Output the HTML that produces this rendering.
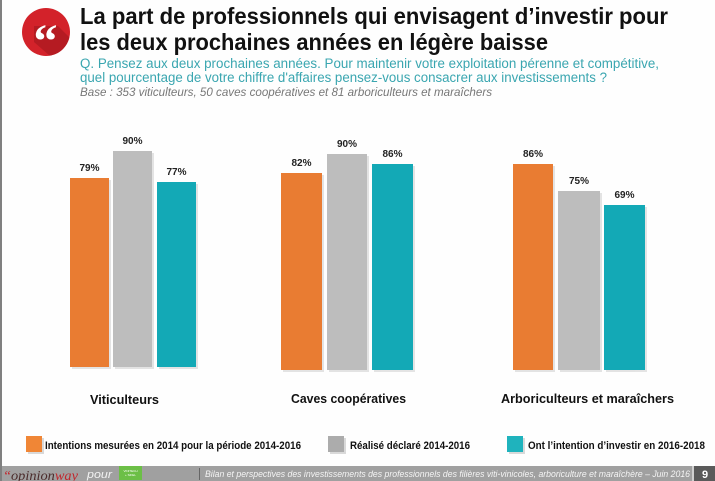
<!DOCTYPE html>
<html><head><meta charset="utf-8"><style>
html,body{margin:0;padding:0;background:#fff;}
svg{display:block;}
text{font-family:"Liberation Sans",sans-serif;}
</style></head><body>
<svg width="715" height="481" viewBox="0 0 715 481" xmlns="http://www.w3.org/2000/svg">
<defs>
<clipPath id="cc"><circle cx="46" cy="32" r="24"/></clipPath>
</defs>
<rect x="0" y="0" width="715" height="481" fill="#fefefe"/>
<rect x="0" y="0" width="2" height="481" fill="#808080"/>

<!-- quote icon -->
<circle cx="46" cy="32" r="24" fill="#d3222a"/>
<polygon points="34,26 58,26 90,58 66,70 34,42" fill="#b51b22" clip-path="url(#cc)"/>
<text x="45.5" y="57" font-family="Liberation Serif,serif" font-weight="bold" font-size="48" fill="#fff" text-anchor="middle" style="font-family:'Liberation Serif',serif">“</text>

<!-- title -->
<text x="80" y="24" font-size="23" font-weight="bold" fill="#111" textLength="588" lengthAdjust="spacingAndGlyphs">La part de professionnels qui envisagent d’investir pour</text>
<text x="80" y="50" font-size="23" font-weight="bold" fill="#111" textLength="468" lengthAdjust="spacingAndGlyphs">les deux prochaines années en légère baisse</text>
<text x="80" y="68" font-size="13.5" fill="#3aa6b0" textLength="579" lengthAdjust="spacingAndGlyphs">Q. Pensez aux deux prochaines années. Pour maintenir votre exploitation pérenne et compétitive,</text>
<text x="80" y="82" font-size="13.5" fill="#3aa6b0" textLength="527" lengthAdjust="spacingAndGlyphs">quel pourcentage de votre chiffre d'affaires pensez-vous consacrer aux investissements ?</text>
<text x="80" y="96" font-size="11.5" font-style="italic" fill="#777" textLength="412" lengthAdjust="spacingAndGlyphs">Base : 353 viticulteurs, 50 caves coopératives et 81 arboriculteurs et maraîchers</text>

<!-- bars: shadows -->
<g fill="#d9d9d9" opacity="0.7">
<rect x="72" y="180" width="39" height="189"/>
<rect x="115" y="153" width="39" height="216"/>
<rect x="159" y="184" width="39" height="185"/>
<rect x="283" y="175" width="41" height="197"/>
<rect x="329" y="156" width="40" height="216"/>
<rect x="374" y="166" width="41" height="206"/>
<rect x="515" y="166" width="40" height="206"/>
<rect x="560" y="193" width="42" height="179"/>
<rect x="606" y="207" width="41" height="165"/>
</g>
<!-- bars -->
<rect x="70" y="178" width="39" height="189" fill="#e97c32"/>
<rect x="113" y="151" width="39" height="216" fill="#bdbdbd"/>
<rect x="157" y="182" width="39" height="185" fill="#13a9b6"/>
<rect x="281" y="173" width="41" height="197" fill="#e97c32"/>
<rect x="327" y="154" width="40" height="216" fill="#bdbdbd"/>
<rect x="372" y="164" width="41" height="206" fill="#13a9b6"/>
<rect x="513" y="164" width="40" height="206" fill="#e97c32"/>
<rect x="558" y="191" width="42" height="179" fill="#bdbdbd"/>
<rect x="604" y="205" width="41" height="165" fill="#13a9b6"/>

<!-- value labels -->
<g font-size="10" font-weight="bold" fill="#222" text-anchor="middle">
<text x="89.5" y="171">79%</text>
<text x="132.5" y="144">90%</text>
<text x="176.5" y="175">77%</text>
<text x="301.5" y="166">82%</text>
<text x="347" y="147">90%</text>
<text x="392.5" y="157">86%</text>
<text x="533" y="157">86%</text>
<text x="579" y="184">75%</text>
<text x="624.5" y="198">69%</text>
</g>

<!-- category labels -->
<g font-size="13" font-weight="bold" fill="#111">
<text x="90" y="404" textLength="69" lengthAdjust="spacingAndGlyphs">Viticulteurs</text>
<text x="291" y="403" textLength="115" lengthAdjust="spacingAndGlyphs">Caves coopératives</text>
<text x="501" y="403" textLength="173" lengthAdjust="spacingAndGlyphs">Arboriculteurs et maraîchers</text>
</g>

<!-- legend -->
<rect x="28" y="438" width="16" height="16" fill="#d9d9d9"/>
<rect x="26" y="436" width="16" height="16" fill="#f08636"/>
<rect x="330" y="438" width="16" height="16" fill="#d9d9d9"/>
<rect x="328" y="436" width="16" height="16" fill="#acacac"/>
<rect x="509" y="438" width="16" height="16" fill="#d9d9d9"/>
<rect x="507" y="436" width="16" height="16" fill="#1fb3bd"/>
<g font-size="11" font-weight="bold" fill="#111">
<text x="45" y="449" textLength="256" lengthAdjust="spacingAndGlyphs">Intentions mesurées en 2014 pour la période 2014-2016</text>
<text x="350" y="449" textLength="120" lengthAdjust="spacingAndGlyphs">Réalisé déclaré 2014-2016</text>
<text x="528" y="449" textLength="177" lengthAdjust="spacingAndGlyphs">Ont l’intention d’investir en 2016-2018</text>
</g>

<!-- footer -->
<rect x="0" y="466" width="715" height="15" fill="#a0a0a0"/>
<rect x="0" y="466" width="2" height="15" fill="#808080"/>
<rect x="692" y="466" width="2" height="15" fill="#d0d0d0"/>
<rect x="694" y="466" width="21" height="15" fill="#5a5a5a"/>
<text x="702" y="478" font-size="11" font-weight="bold" fill="#fff">9</text>
<text x="3" y="480" font-size="14" font-style="italic" style="font-family:'Liberation Serif',serif" textLength="75" lengthAdjust="spacingAndGlyphs"><tspan fill="#c0272d">“</tspan><tspan fill="#4a2b2b">opinion</tspan><tspan fill="#c0272d">way</tspan></text>
<text x="87" y="478" font-size="11" font-style="italic" fill="#f2f2f2" textLength="25" lengthAdjust="spacingAndGlyphs">pour</text>
<rect x="119" y="466" width="23" height="14" fill="#6cbf47"/>
<text x="130.5" y="472" font-size="3" fill="#fff" text-anchor="middle">VINITECH</text>
<text x="130.5" y="476" font-size="3" fill="#fff" text-anchor="middle">+ SIFEL</text>
<rect x="199" y="468" width="1" height="12" fill="#666"/>
<text x="205" y="477" font-size="9.5" font-style="italic" fill="#f4f4f4" textLength="485" lengthAdjust="spacingAndGlyphs">Bilan et perspectives des investissements des professionnels des filières viti-vinicoles, arboriculture et maraîchère – Juin 2016</text>
</svg>
</body></html>
